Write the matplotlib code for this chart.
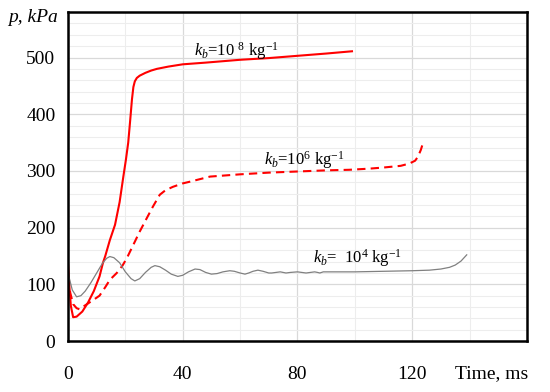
import matplotlib
matplotlib.use("Agg")
import matplotlib.pyplot as plt
from matplotlib.ticker import MultipleLocator

plt.rcParams['font.family'] = ['Liberation Serif', 'DejaVu Serif']
plt.rcParams['mathtext.fontset'] = 'custom'
plt.rcParams['mathtext.rm'] = 'Liberation Serif'
plt.rcParams['mathtext.it'] = 'Liberation Serif:italic'

# k_b = 1e8 kg^-1 (solid red)
t8 = [0, 0.5, 1, 1.8, 3, 5, 7, 9, 11, 12.2, 13, 14.6, 16.4, 18, 19.3, 20.2, 21,
      21.7, 22.3, 22.8, 23.3, 24, 25, 27, 29, 31, 35, 40, 48, 60, 70, 80, 90, 99]
p8 = [138, 95, 62, 42, 43, 52, 68, 88, 114, 138, 150, 178, 205, 245, 290, 320, 350,
      390, 426, 448, 458, 464, 468, 473, 477, 480, 484, 488, 491, 496, 499, 503, 507, 511]

# k_b = 1e6 kg^-1 (dashed red)
t6 = [0, 0.8, 1.8, 3, 4, 6, 8.7, 11, 13, 14.6, 17, 19, 20.5, 23, 25, 27.5, 29.6,
      32, 34, 36.6, 40, 42.5, 49.5, 60, 70, 80, 90, 98, 105, 110, 116, 119, 121,
      122, 123, 123.8]
p6 = [112, 85, 65, 58, 56, 63, 72, 80, 95, 108, 120, 133, 146, 172, 193, 217, 237,
      258, 266, 272, 278, 281, 290, 294, 297, 299, 301, 302, 304, 306, 309, 313, 318,
      325, 337, 350]

# k_b = 1e4 kg^-1 (grey)
t4 = [0, 0.5, 1.5, 3, 4.5, 6, 8, 10, 12, 13.5, 14.6, 16, 18, 20, 22, 23.3, 25, 27,
      29, 30.3, 32, 34, 36, 38.3, 40, 42, 44.3, 46, 48, 50, 52, 54, 56.4, 58, 60,
      61.7, 63, 64.5, 66.2, 68, 70, 71, 72.5, 74, 75, 76, 77.5, 80, 81.5, 83, 84.5,
      86, 87, 87.8, 89, 95, 100, 110, 120, 126, 130, 133, 135, 137, 139]
p4 = [125, 110, 90, 78, 80, 88, 103, 120, 137, 146, 149, 147, 138, 122, 110, 106,
      110, 121, 130, 133, 131, 125, 118, 114, 116, 122, 127, 126, 121, 118, 119, 122,
      124, 123, 120, 118, 120, 123, 125, 123, 120, 120, 121, 122, 121, 120, 121, 122,
      121, 120, 121, 122, 121, 120, 122, 122, 122, 123, 124, 125, 127, 130, 134, 141,
      152]

fig = plt.figure(figsize=(5.5, 3.92), dpi=100)
ax = fig.add_axes([0.1236, 0.130, 0.8345, 0.839])

ax.plot(t8, p8, color='#ff0000', lw=1.5)
ax.plot(t6, p6, color='#ff0000', lw=1.5, ls=(0, (4, 2.5)))
ax.plot(t4, p4, color='#808080', lw=0.9)

ax.set_xlim(0, 160)
ax.set_ylim(0, 580)
ax.xaxis.set_major_locator(MultipleLocator(40))
ax.xaxis.set_minor_locator(MultipleLocator(20))
ax.yaxis.set_major_locator(MultipleLocator(100))
ax.yaxis.set_minor_locator(MultipleLocator(20))
ax.grid(which='major', color='#d9d9d9', lw=0.9)
ax.grid(which='minor', color='#ededed', lw=0.8)
ax.set_axisbelow(True)
ax.set_xticks([0, 40, 80, 120])
ax.tick_params(which='both', length=0, labelsize=14)
ax.tick_params(axis='x', pad=18)
ax.tick_params(axis='y', pad=9)
for s in ax.spines.values():
    s.set_linewidth(1.8)
    s.set_color('black')

ax.text(44, 512, r'$k_b$=10 $^{8}$ kg$^{-1}$', fontsize=12, va='center')
ax.text(68.5, 320, r'$k_b$=10$^{6}$ kg$^{-1}$', fontsize=12, va='center')
ax.text(85.5, 147, r'$k_b$=  10$^{4}$ kg$^{-1}$', fontsize=12, va='center')

fig.text(0.015, 0.955, 'p, kPa', fontsize=14, style='italic', va='center')
fig.text(0.828, 0.048, 'Time, ms', fontsize=14, va='center')

fig.savefig('out.png', dpi=100)
